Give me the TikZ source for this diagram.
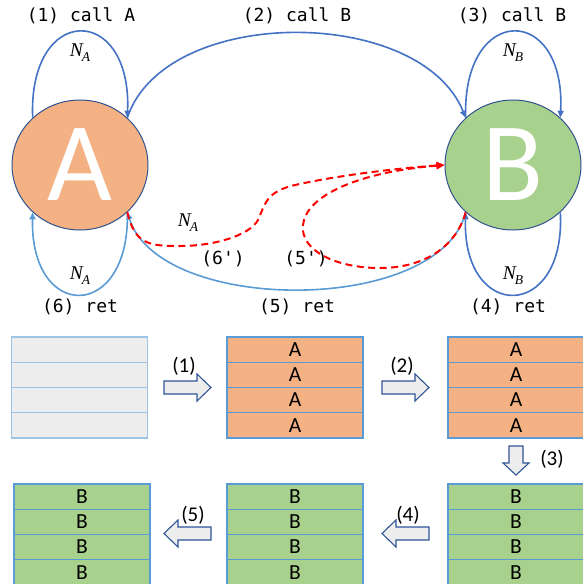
\documentclass[tikz,border=0pt]{standalone}
\usepackage{fontspec}
\setmainfont{Carlito}
\newfontfamily\monofont{DejaVu Sans Mono}
\newfontfamily\seriffont{Liberation Serif}
\usetikzlibrary{arrows.meta,shapes.geometric}
\definecolor{lineblue}{HTML}{4472C4}
\definecolor{lightblue}{HTML}{5B9BD5}
\definecolor{edgeblue}{HTML}{2F528F}
\definecolor{orangefill}{HTML}{F4B183}
\definecolor{greenfill}{HTML}{A9D18E}
\definecolor{grayfill}{HTML}{EDEDED}
\definecolor{paleblue}{HTML}{9DC3E6}
\definecolor{arrowedge}{HTML}{2F5597}
\newcommand{\Nsub}[1]{{\seriffont\itshape N\kern-1pt\raisebox{-5pt}{\fontsize{13.5}{13.5}\selectfont #1}}}
\begin{document}
\begin{tikzpicture}[x=1pt,y=-1pt,
  bigcirc/.style={ellipse, draw=edgeblue, line width=1pt, minimum width=136pt, minimum height=130pt, inner sep=0pt, text=white, font=\fontsize{112}{112}\selectfont},
  lbl/.style={font=\monofont\fontsize{18}{18}\selectfont, inner sep=0pt},
  nlbl/.style={font=\fontsize{19.5}{19.5}\selectfont, inner sep=0pt},
  numlbl/.style={font=\fontsize{21}{21}\selectfont, inner sep=0pt},
  conn/.style={draw=lineblue, line width=1.6pt, -{Triangle[length=7pt,width=6pt]}},
  connl/.style={draw=lightblue, line width=1.6pt, -{Triangle[length=7pt,width=6pt]}},
  reddash/.style={draw=red, line width=2pt, dash pattern=on 7pt off 4.5pt, -{Triangle[length=8pt,width=7pt]}},
  cell/.style={rectangle, line width=1.4pt, minimum width=136pt, minimum height=25.2pt, inner sep=0pt, font=\fontsize{21.5}{21.5}\selectfont},
  blockarrow/.style={draw=arrowedge, fill=grayfill, line width=1.1pt, line join=miter}
]
\useasboundingbox (0,0) rectangle (582,584);

% circles
\node[bigcirc, fill=orangefill] (A) at (80,165) {A};
\node[bigcirc, fill=greenfill] (B) at (513,165) {B};

% connectors
\draw[conn] (A.135) .. controls (28,3) and (132,3) .. (A.45);
\draw[connl] (A.-45) .. controls (130,322) and (30,322) .. (A.-135);
\draw[conn] (A.45) .. controls (165,5) and (420,5) .. (B.135);
\draw[conn] (B.135) .. controls (462,3) and (566,3) .. (B.45);
\draw[conn] (B.-45) .. controls (566,322) and (462,322) .. (B.-135);
\draw[connl] (B.-135) .. controls (440,315) and (160,315) .. (A.-45);
\draw[reddash] (A.-45) .. controls (135,245) and (150,246) .. (180,246)
   .. controls (215,246) and (250,235) .. (258,220)
   .. controls (265,205) and (265,192) .. (295,185)
   .. controls (340,175) and (400,168) .. (B.west);
\draw[reddash] (B.-135) .. controls (455,250) and (420,268) .. (380,268)
   .. controls (335,268) and (300,250) .. (303,225)
   .. controls (306,195) and (360,172) .. (B.west);

% labels
\node[lbl] (l1) at (81,16) {(1) call A};
\node[lbl] (l2) at (297,16) {(2) call B};
\node[lbl] (l3) at (512,16) {(3) call B};
\node[lbl] (l6) at (80,307) {(6) ret};
\node[lbl] (l5) at (297,307) {(5) ret};
\node[lbl] (l4) at (508,307) {(4) ret};
\node[lbl] (l6p) at (223,259) {(6')};
\node[lbl] (l5p) at (306,259) {(5')};
\node[nlbl] (na1) at (80,53) {\Nsub{A}};
\node[nlbl] (na2) at (80,276) {\Nsub{A}};
\node[nlbl] (na3) at (188,223) {\Nsub{A}};
\node[nlbl] (nb1) at (513,53) {\Nsub{B}};
\node[nlbl] (nb2) at (513,276) {\Nsub{B}};

% stacks
\foreach \nm/\cx/\tp/\fc/\dc/\tx in {s1/79.5/337/grayfill/paleblue/{},
    s2/295/337/orangefill/lightblue/A, s3/516/337/orangefill/lightblue/A,
    s4/82/484/greenfill/lightblue/B, s5/295/484/greenfill/lightblue/B,
    s6/516/484/greenfill/lightblue/B}{
  \foreach \r in {1,...,4}{
    \node[cell, fill=\fc, draw=\dc] (\nm r\r) at (\cx,{\tp+12.6+25.2*(\r-1)}) {\tx};
  }
}

% block arrows
\draw[blockarrow] (164,381) -- (197,381) -- (197,374) -- (211,387.5) -- (197,401) -- (197,394) -- (164,394) -- cycle;
\draw[blockarrow] (382,381) -- (415,381) -- (415,374) -- (429,387.5) -- (415,401) -- (415,394) -- (382,394) -- cycle;
\draw[blockarrow] (509,446) -- (523,446) -- (523,463) -- (529,463) -- (516,475) -- (503,463) -- (509,463) -- cycle;
\draw[blockarrow] (429,527) -- (396,527) -- (396,520) -- (382,533.5) -- (396,547) -- (396,540) -- (429,540) -- cycle;
\draw[blockarrow] (211,527) -- (178,527) -- (178,520) -- (164,533.5) -- (178,547) -- (178,540) -- (211,540) -- cycle;

\node[numlbl] (n1) at (184,366) {(1)};
\node[numlbl] (n2) at (402,366) {(2)};
\node[numlbl] (n3) at (552,459) {(3)};
\node[numlbl] (n4) at (408,515) {(4)};
\node[numlbl] (n5) at (193,515) {(5)};
\end{tikzpicture}
\end{document}
